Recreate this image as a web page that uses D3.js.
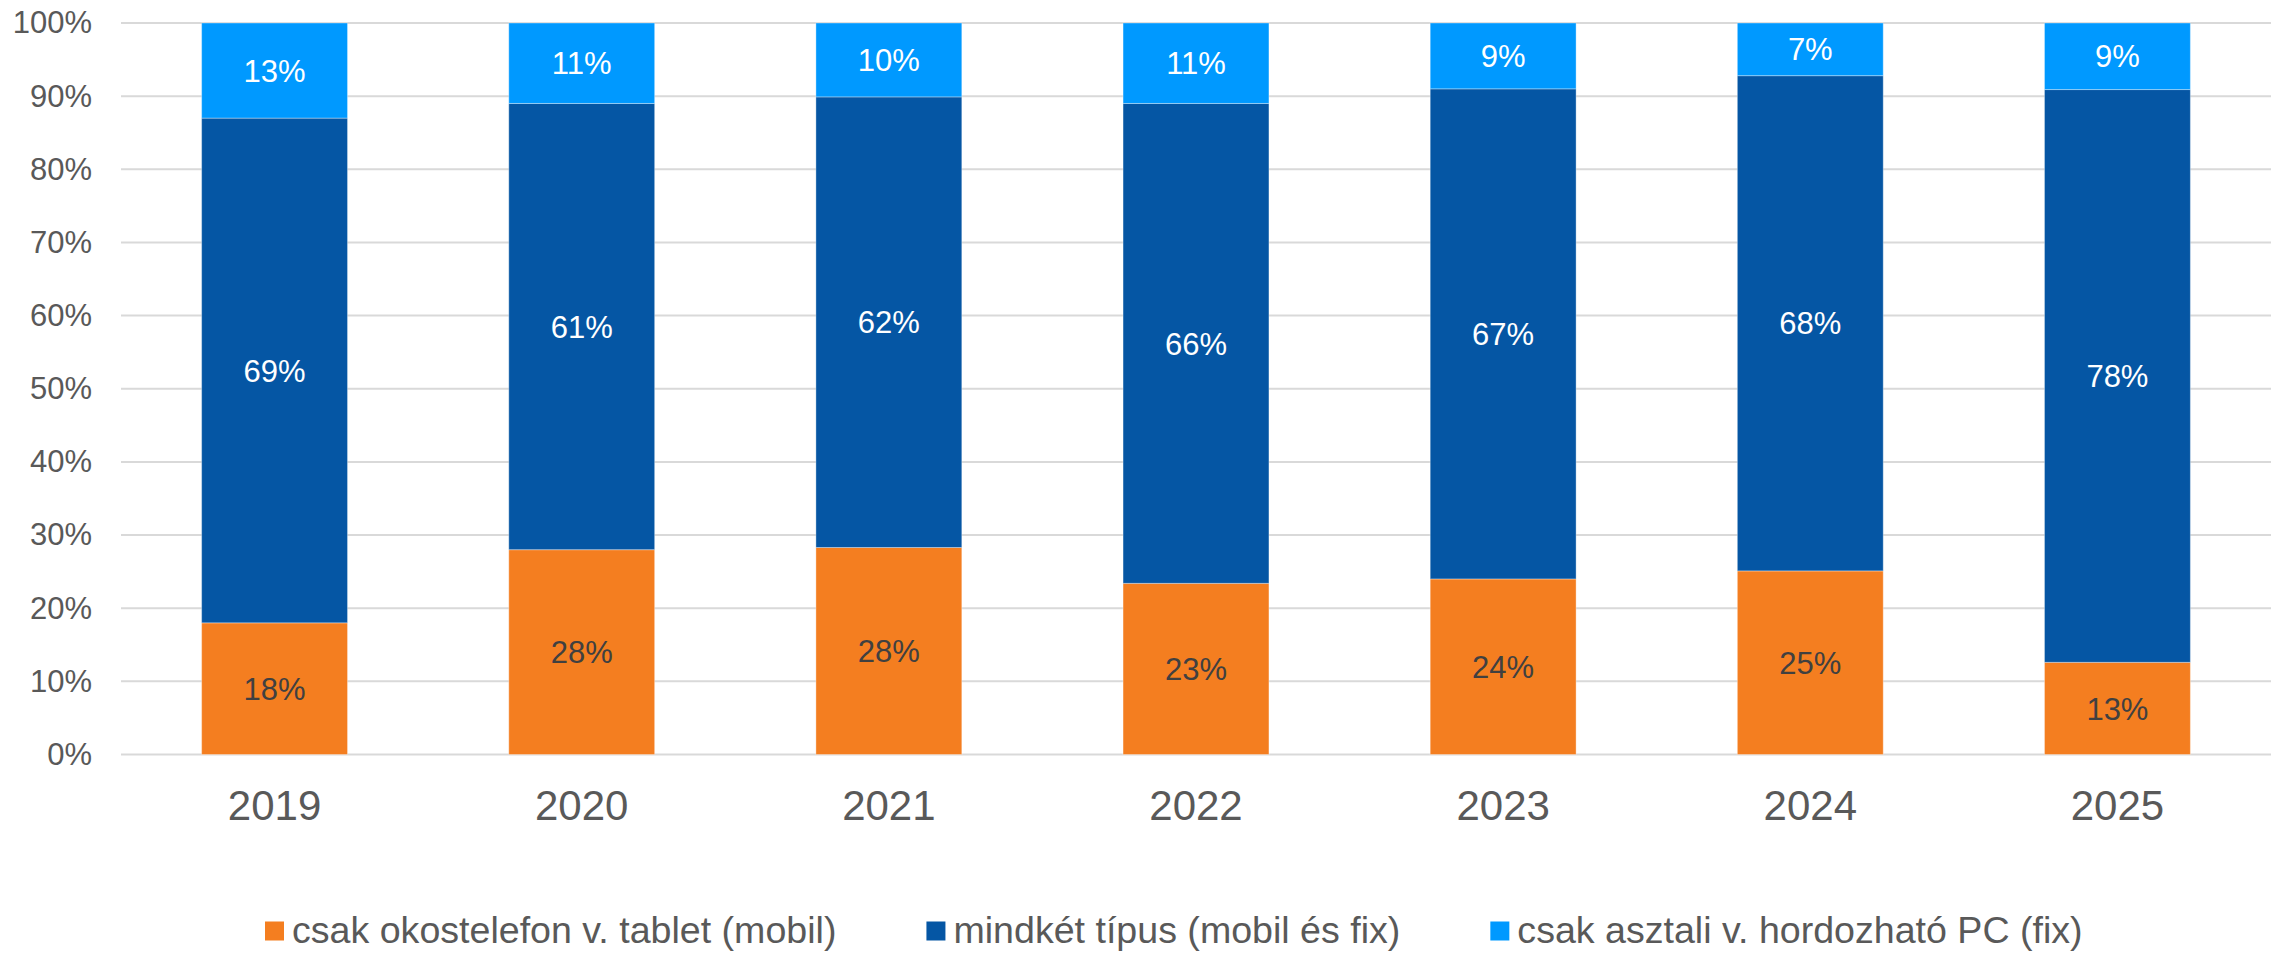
<!DOCTYPE html>
<html>
<head>
<meta charset="utf-8">
<script src="https://cdn.jsdelivr.net/npm/d3@7"></script>
<style>
  html, body { margin: 0; padding: 0; background: #ffffff; }
  svg { display: block; }
  text { font-family: "Liberation Sans", Arial, sans-serif; }
</style>
</head>
<body>
<svg id="chart" width="2277" height="954"></svg>
<script>
const years = ["2019", "2020", "2021", "2022", "2023", "2024", "2025"];
const mobileOnly = [18.0, 28.0, 28.3, 23.4, 24.0, 25.1, 12.6];
const both = [69.0, 61.0, 61.6, 65.6, 67.0, 67.7, 78.3];
const fixedOnly = [13.0, 11.0, 10.1, 11.0, 9.0, 7.2, 9.1];
const seriesNames = ["csak okostelefon v. tablet (mobil)", "mindkét típus (mobil és fix)", "csak asztali v. hordozható PC (fix)"];
const seriesColors = ["#F47E20", "#0556A4", "#0099FF"];
const labelColors = ["#404040", "#ffffff", "#ffffff"];
const yTicks = [0, 10, 20, 30, 40, 50, 60, 70, 80, 90, 100];

const svg = d3.select("#chart");
const margin = { left: 121, right: 6, top: 23, bottom: 199.5 };
const W = 2277, H = 954;

const x = d3.scaleBand().domain(years).range([margin.left, W - margin.right]).paddingInner(0.525).paddingOuter(0.2625);
const y = d3.scaleLinear().domain([0, 100]).range([H - margin.bottom, margin.top]);

// gridlines
svg.append("g").selectAll("line").data(yTicks).join("line")
  .attr("x1", margin.left).attr("x2", W - margin.right)
  .attr("y1", d => y(d)).attr("y2", d => y(d))
  .attr("stroke", "#D9D9D9").attr("stroke-width", 2);

// y axis labels
const yAxis = d3.axisLeft(y).tickValues(yTicks).tickFormat(d => d + "%").tickSize(0).tickPadding(29);
const ga = svg.append("g").attr("transform", `translate(${margin.left},0)`).call(yAxis);
ga.select(".domain").remove();
ga.selectAll("text").attr("font-size", 31).attr("fill", "#595959").attr("font-family", "Liberation Sans, Arial, sans-serif");

// x axis labels
const xAxis = d3.axisBottom(x).tickSize(0).tickPadding(36);
const gx = svg.append("g").attr("transform", `translate(0,${y(0)})`).call(xAxis);
gx.select(".domain").remove();
gx.selectAll("text").attr("font-size", 42).attr("fill", "#595959").attr("font-family", "Liberation Sans, Arial, sans-serif");

// stacked data
const rows = years.map((yr, i) => ({ year: yr, s0: mobileOnly[i], s1: both[i], s2: fixedOnly[i] }));
const stack = d3.stack().keys(["s0", "s1", "s2"]);
const stacked = stack(rows);

const groups = svg.append("g").selectAll("g").data(stacked).join("g")
  .attr("fill", (d, i) => seriesColors[i]);
groups.selectAll("rect").data(d => d).join("rect")
  .attr("x", d => x(d.data.year))
  .attr("width", x.bandwidth())
  .attr("y", d => y(d[1]))
  .attr("height", d => y(d[0]) - y(d[1]))
  .attr("stroke", "#ffffff").attr("stroke-opacity", 0.35).attr("stroke-width", 1);

// labels
const lg = svg.append("g");
stacked.forEach((ser, si) => {
  lg.selectAll(null).data(ser).join("text")
    .attr("x", d => x(d.data.year) + x.bandwidth() / 2)
    .attr("y", d => (y(d[0]) + y(d[1])) / 2)
    .attr("dy", "0.36em")
    .attr("text-anchor", "middle")
    .attr("font-size", 31)
    .attr("fill", labelColors[si])
    .text(d => d3.format(".0f")(d[1] - d[0]) + "%");
});

// legend
const leg = svg.append("g");
let cx = 265;
seriesNames.forEach((name, i) => {
  const g = leg.append("g");
  g.append("rect").attr("x", 0).attr("y", 921.5).attr("width", 19).attr("height", 19).attr("fill", seriesColors[i]);
  const t = g.append("text").attr("x", 27).attr("y", 943).attr("font-size", 37.6).attr("fill", "#595959").text(name);
  const w = t.node().getComputedTextLength();
  g.attr("transform", `translate(${cx},0)`);
  cx += 27 + w + 90;
});
</script>
</body>
</html>
